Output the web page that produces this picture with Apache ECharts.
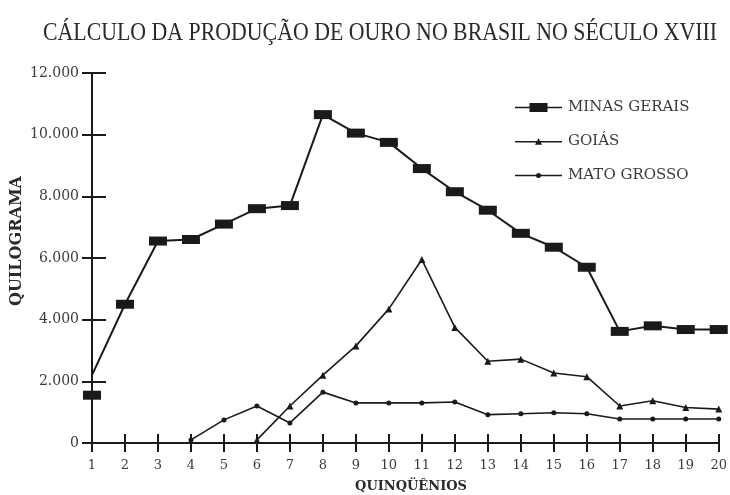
<!DOCTYPE html>
<html><head><meta charset="utf-8">
<script src="https://cdn.jsdelivr.net/npm/echarts@6/dist/echarts.min.js"></script>
<style>html,body{margin:0;padding:0;background:#fff}#c{width:730px;height:495px}</style>
</head><body><div id="c"></div>
<script>
const categories = ['1','2','3','4','5','6','7','8','9','10','11','12','13','14','15','16','17','18','19','20'];
const minasGerais = [2200, 4500, 6550, 6600, 7100, 7600, 7700, 10650, 10050, 9750, 8900, 8150, 7550, 6800, 6350, 5700, 3620, 3800, 3680, 3680];
const minasGeraisFirstMarker = 1550;
const goias = [null, null, null, null, null, 100, 1200, 2200, 3150, 4350, 5950, 3750, 2650, 2720, 2270, 2150, 1200, 1370, 1150, 1100];
const matoGrosso = [null, null, null, 100, 750, 1200, 650, 1650, 1300, 1300, 1300, 1330, 920, 950, 980, 950, 780, 780, 780, 780];
const yTickLabels = ['0', '2.000', '4.000', '6.000', '8.000', '10.000', '12.000'];
const seriesNames = ['MINAS GERAIS', 'GOIÁS', 'MATO GROSSO'];
const titleText = 'CÁLCULO DA PRODUÇÃO DE OURO NO BRASIL NO SÉCULO XVIII';
const yName = 'QUILOGRAMA';
const xName = 'QUINQÜÊNIOS';

const FONT = 'DejaVu Serif';
const TFONT = 'Liberation Serif';
const INK = '#1a1a1a';
const TXT = '#3a3a3a';
const chart = echarts.init(document.getElementById('c'));

const minasData = minasGerais.map((v, i) => i === 0 ? { value: v, symbol: 'none' } : v);

const iconMinas = 'path://M0,6.2H47V7.8H0Z M14.5,2.5H32.5V11.5H14.5Z';
const iconGoias = 'path://M0,6.3H47V7.7H0Z M20,10L23.5,3.5L27,10Z';
const iconMato = 'path://M0,6.3H47V7.7H0Z M21,7A2.5,2.5 0 1,1 26,7A2.5,2.5 0 1,1 21,7Z';

chart.setOption({
  animation: false,
  backgroundColor: '#fff',
  grid: { left: 92, right: 7, top: 73, bottom: 52, containLabel: false },
  legend: {
    orient: 'vertical', left: 515, top: 100, padding: 0,
    itemWidth: 47, itemHeight: 14, itemGap: 19,
    data: [
      { name: seriesNames[0], icon: iconMinas },
      { name: seriesNames[1], icon: iconGoias },
      { name: seriesNames[2], icon: iconMato }
    ],
    textStyle: { fontFamily: FONT, fontSize: 15, color: TXT, padding: [0, 0, 0, 1] }
  },
  xAxis: [{
    type: 'category', data: categories, boundaryGap: false,
    axisLine: { lineStyle: { color: INK, width: 2 } },
    axisTick: { show: true, length: 9, interval: 0, lineStyle: { color: INK, width: 2 } },
    axisLabel: { interval: 0, margin: 16, fontFamily: FONT, fontSize: 13, color: TXT },
    splitLine: { show: false }
  }, {
    type: 'category', data: categories, boundaryGap: false, position: 'bottom',
    axisLine: { show: false },
    axisTick: { show: true, inside: true, length: 9, interval: 0, lineStyle: { color: INK, width: 2 } },
    axisLabel: { show: false }, splitLine: { show: false }
  }],
  yAxis: [{
    type: 'value', min: 0, max: 12000, interval: 2000,
    axisLine: { show: true, lineStyle: { color: INK, width: 2 } },
    axisTick: { show: true, length: 10, lineStyle: { color: INK, width: 2 } },
    axisLabel: { margin: 13, fontFamily: FONT, fontSize: 14, color: TXT,
      formatter: v => yTickLabels[Math.round(v / 2000)] },
    splitLine: { show: false }
  }, {
    type: 'value', min: 0, max: 12000, interval: 2000, position: 'left',
    axisLine: { show: false },
    axisTick: { show: true, inside: true, length: 14, lineStyle: { color: INK, width: 2 } },
    axisLabel: { show: false }, splitLine: { show: false }
  }],
  graphic: [
    { type: 'text', x: 380, y: 33, scaleX: 0.84,
      style: { text: titleText, fontFamily: TFONT, fontSize: 26, fill: '#2a2a2a', textAlign: 'center', textVerticalAlign: 'middle' } },
    { type: 'text', x: 17, y: 241, rotation: Math.PI / 2,
      style: { text: yName, fontFamily: FONT, fontSize: 16, fontWeight: 'bold', fill: '#2a2a2a', textAlign: 'center', textVerticalAlign: 'middle' } },
    { type: 'text', x: 411, y: 487,
      style: { text: xName, fontFamily: FONT, fontSize: 13, fontWeight: 'bold', fill: '#2a2a2a', textAlign: 'center', textVerticalAlign: 'middle' } }
  ],
  series: [
    { name: seriesNames[0], type: 'line', data: minasData,
      symbol: 'rect', symbolSize: [18, 9],
      lineStyle: { color: INK, width: 2 }, itemStyle: { color: INK } },
    { name: seriesNames[1], type: 'line', data: goias,
      symbol: 'triangle', symbolSize: 7,
      lineStyle: { color: INK, width: 1.6 }, itemStyle: { color: INK } },
    { name: seriesNames[2], type: 'line', data: matoGrosso,
      symbol: 'circle', symbolSize: 5,
      lineStyle: { color: INK, width: 1.6 }, itemStyle: { color: INK } },
    { name: 'minasFirst', type: 'scatter', data: [[categories[0], minasGeraisFirstMarker]],
      symbol: 'rect', symbolSize: [18, 9], itemStyle: { color: INK, opacity: 1 } }
  ]
});
</script></body></html>
